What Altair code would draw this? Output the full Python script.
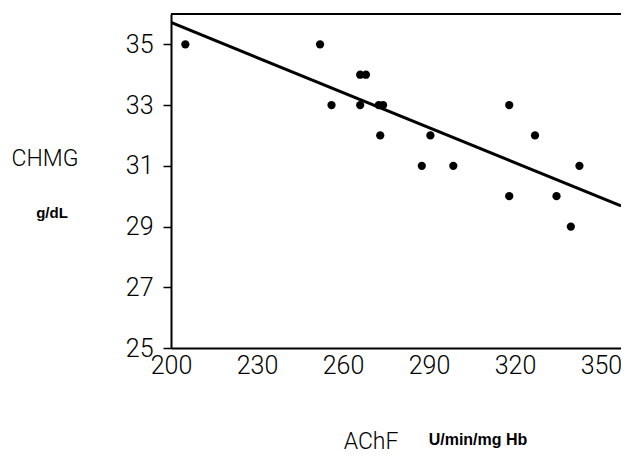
import altair as alt
import pandas as pd

# Data
ache = [205, 252, 256, 266, 268, 266, 272.5, 274, 273, 290.5, 287.5, 298.5,
        318, 327, 342.5, 318, 334.5, 339.5]
chmg = [35, 35, 33, 34, 34, 33, 33, 33, 32, 32, 31, 31,
        33, 32, 31, 30, 30, 29]
line_x = [200, 357]
line_y = [35.72, 29.68]
y_ticks = [25, 27, 29, 31, 33, 35]
x_ticks = [200, 230, 260, 290, 320, 350]

pts = pd.DataFrame({"x": ache, "y": chmg})
ln = pd.DataFrame({"x": line_x, "y": line_y})

FONT = "Roboto"
BOLD = "Liberation Sans"
xs = alt.Scale(domain=[200, 357], nice=False, zero=False)
ys = alt.Scale(domain=[25, 36], nice=False, zero=False)

xaxis = alt.Axis(values=x_ticks, title=None, grid=False, ticks=False,
                 labelFontSize=25, labelFont=FONT, labelFontWeight=300,
                 labelColor="black", labelPadding=5, domainColor="black",
                 domainWidth=2, labelFlush=False)
yaxis = alt.Axis(values=y_ticks, title=None, grid=False, tickSize=8,
                 tickColor="black", tickWidth=1.5,
                 labelFontSize=25, labelFont=FONT, labelFontWeight=300,
                 labelColor="black", labelPadding=10, domainColor="black",
                 domainWidth=2, labelFlush=False)

points = alt.Chart(pts).mark_circle(size=68, color="black", opacity=1).encode(
    x=alt.X("x:Q", scale=xs, axis=xaxis),
    y=alt.Y("y:Q", scale=ys, axis=yaxis),
)

reg = alt.Chart(ln).mark_line(color="black", strokeWidth=3, clip=True).encode(
    x=alt.X("x:Q", scale=xs),
    y=alt.Y("y:Q", scale=ys),
)

top = alt.Chart(pd.DataFrame({"y": [36]})).mark_rule(color="black", strokeWidth=2).encode(
    y=alt.Y("y:Q", scale=ys)
)

def label(txt, x, y, size, weight, font=FONT, align="center"):
    return alt.Chart(pd.DataFrame({"t": [txt]})).mark_text(
        font=font, fontSize=size, fontWeight=weight, color="black",
        align=align, baseline="middle"
    ).encode(x=alt.value(x), y=alt.value(y), text="t:N")

texts = [
    label("CHMG", -126, 145, 23, 300),
    label("g/dL", -119, 199, 15, "bold", BOLD),
    label("AChF", 200, 428, 23, 300),
    label("U/min/mg Hb", 307, 426, 16, "bold", BOLD),
]

chart = alt.layer(top, reg, points, *texts).properties(
    width=450, height=334,
    autosize=alt.AutoSizeParams(type="none"),
    padding={"left": 163, "top": 6, "right": 0, "bottom": 120},
).configure_view(stroke=None)

chart.save("out.html", embed_options={"renderer": "svg", "actions": False})
